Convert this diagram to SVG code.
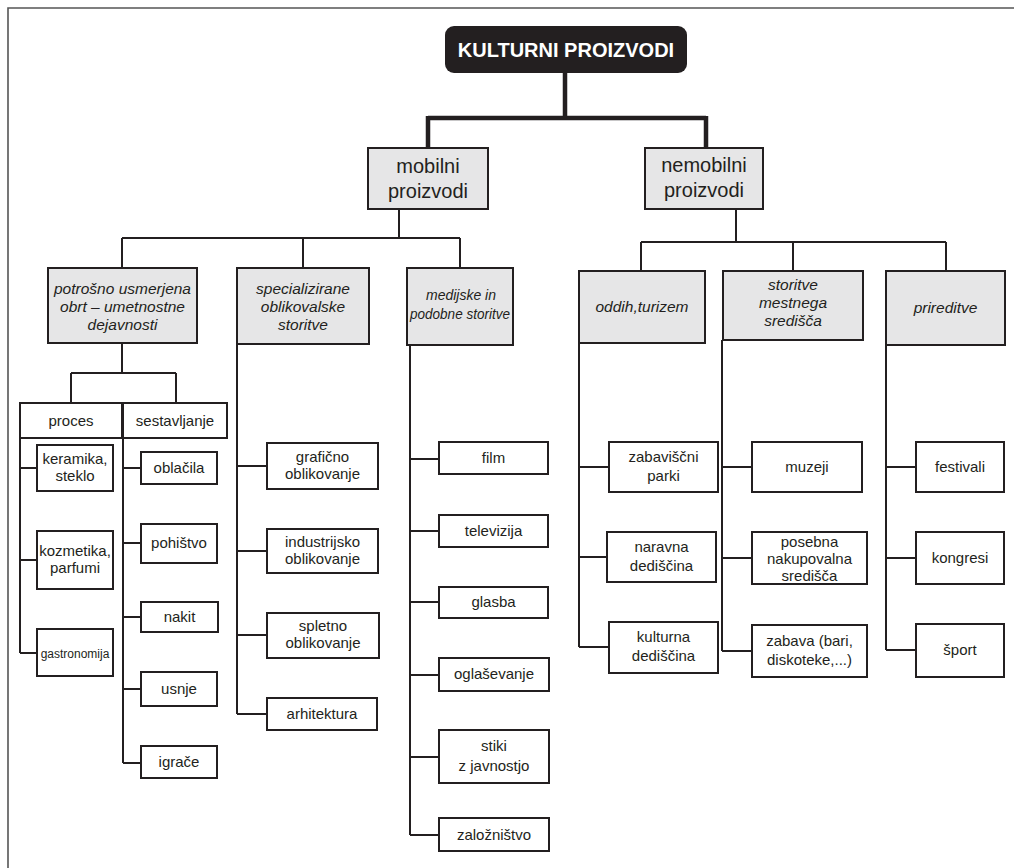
<svg xmlns="http://www.w3.org/2000/svg" width="1014" height="868" viewBox="0 0 1014 868">
<style>
.bg{fill:#fff}
.frame{fill:none;stroke:#555;stroke-width:1.6}
.c{fill:none;stroke:#231f20;stroke-width:2}
.ct{fill:none;stroke:#231f20;stroke-width:4.5}
.root rect{fill:#231f20}
.root text{fill:#fff;font:bold 20px "Liberation Sans",Arial,sans-serif;text-anchor:middle}
.l1 rect{fill:#e6e6e7;stroke:#231f20;stroke-width:2}
.l1 text{fill:#231f20;font:20px "Liberation Sans",Arial,sans-serif;text-anchor:middle}
.l2 rect{fill:#e6e6e7;stroke:#231f20;stroke-width:2}
.l2 text{fill:#231f20;font:italic 15.5px "Liberation Sans",Arial,sans-serif;text-anchor:middle}
.lf rect{fill:#fff;stroke:#231f20;stroke-width:2}
.lf text{fill:#231f20;font:15px "Liberation Sans",Arial,sans-serif;text-anchor:middle}
</style>
<rect class="bg" x="0" y="0" width="1014" height="868"/>
<path class="frame" d="M8,868 V8 H1014"/>
<g id="connectors">
<path class="ct" d="M565,73 V118 M428,118 H706 M428,116 V148 M706,116 V148"/>
<path class="c" d="M399,209 V238 M122,238 H460 M122,238 V268 M303,238 V268 M460,238 V268"/>
<path class="c" d="M736,209 V242 M641,242 H946 M641,242 V271 M793,242 V271 M946,242 V271"/>
<path class="c" d="M122,343 V373 M71,373 H176 M71,373 V403 M176,373 V403"/>
<path class="c" d="M20,438 V653 M20,468 H37 M20,560 H37 M20,653 H37"/>
<path class="c" d="M123,438 V763 M123,468 H141 M123,543 H141 M123,617 H141 M123,689 H141 M123,763 H141"/>
<path class="c" d="M237,344 V714 M237,466 H267 M237,551 H267 M237,635 H267 M237,714 H267"/>
<path class="c" d="M410,345 V835 M410,459 H439 M410,531 H439 M410,602 H439 M410,675 H439 M410,757 H439 M410,835 H439"/>
<path class="c" d="M579,343 V647 M579,467 H609 M579,557 H607 M579,647 H609"/>
<path class="c" d="M722,340 V651 M722,467 H752 M722,558 H752 M722,651 H752"/>
<path class="c" d="M886,345 V650 M886,467 H916 M886,558 H916 M886,650 H916"/>
</g>
<g id="root" class="root"><rect x="445" y="26" width="242" height="47" rx="9"/><text x="566" y="57">KULTURNI PROIZVODI</text></g>
<g id="mobilni" class="l1"><rect x="368" y="148" width="120" height="61"/><text x="428" y="173">mobilni</text><text x="428" y="198">proizvodi</text></g>
<g id="nemobilni" class="l1"><rect x="645" y="148" width="118" height="61"/><text x="704" y="172">nemobilni</text><text x="704" y="197">proizvodi</text></g>
<g id="potrosno" class="l2"><rect x="48" y="268" width="149" height="75"/><text x="122.5" y="294">potrošno usmerjena</text><text x="122.5" y="312">obrt – umetnostne</text><text x="122.5" y="330">dejavnosti</text></g>
<g id="specializirane" class="l2"><rect x="237" y="268" width="132" height="76"/><text x="303" y="294">specializirane</text><text x="303" y="312">oblikovalske</text><text x="303" y="330">storitve</text></g>
<g id="medijske" class="l2"><rect x="407" y="268" width="106" height="77"/><text x="461" y="300" textLength="70" lengthAdjust="spacingAndGlyphs">medijske in</text><text x="460" y="319" textLength="100" lengthAdjust="spacingAndGlyphs">podobne storitve</text></g>
<g id="oddih" class="l2"><rect x="579" y="271" width="126" height="72"/><text x="642" y="312">oddih,turizem</text></g>
<g id="storitve" class="l2"><rect x="723" y="271" width="140" height="69"/><text x="793" y="290">storitve</text><text x="793" y="308">mestnega</text><text x="793" y="326">središča</text></g>
<g id="prireditve" class="l2"><rect x="886" y="271" width="119" height="74"/><text x="945.5" y="313">prireditve</text></g>
<g id="proces" class="lf"><rect x="20" y="403" width="102" height="35"/><text x="71" y="426">proces</text></g>
<g id="sestavljanje" class="lf"><rect x="123" y="403" width="104" height="35"/><text x="175" y="426">sestavljanje</text></g>
<g id="keramika" class="lf"><rect x="37" y="445" width="76" height="46"/><text x="75" y="464">keramika,</text><text x="75" y="481">steklo</text></g>
<g id="kozmetika" class="lf"><rect x="37" y="531" width="76" height="58"/><text x="75" y="556">kozmetika,</text><text x="75" y="573">parfumi</text></g>
<g id="gastronomija" class="lf"><rect x="37" y="629" width="76" height="47"/><text x="75" y="658" style="font-size:12px">gastronomija</text></g>
<g id="oblacila" class="lf"><rect x="141" y="452" width="76" height="32"/><text x="179" y="473">oblačila</text></g>
<g id="pohistvo" class="lf"><rect x="141" y="524" width="76" height="39"/><text x="179" y="548">pohištvo</text></g>
<g id="nakit" class="lf"><rect x="141" y="602" width="77" height="30"/><text x="179.5" y="622">nakit</text></g>
<g id="usnje" class="lf"><rect x="141" y="672" width="76" height="34"/><text x="179" y="694">usnje</text></g>
<g id="igrace" class="lf"><rect x="141" y="746" width="76" height="32"/><text x="179" y="767">igrače</text></g>
<g id="graficno" class="lf"><rect x="267" y="443" width="111" height="46"/><text x="322.5" y="462">grafično</text><text x="322.5" y="479">oblikovanje</text></g>
<g id="industrijsko" class="lf"><rect x="267" y="529" width="111" height="44"/><text x="322.5" y="547">industrijsko</text><text x="322.5" y="564">oblikovanje</text></g>
<g id="spletno" class="lf"><rect x="267" y="613" width="112" height="45"/><text x="323" y="631">spletno</text><text x="323" y="648">oblikovanje</text></g>
<g id="arhitektura" class="lf"><rect x="267" y="698" width="110" height="32"/><text x="322" y="719">arhitektura</text></g>
<g id="film" class="lf"><rect x="439" y="442" width="109" height="32"/><text x="493.5" y="463">film</text></g>
<g id="televizija" class="lf"><rect x="439" y="515" width="109" height="32"/><text x="493.5" y="536">televizija</text></g>
<g id="glasba" class="lf"><rect x="439" y="587" width="109" height="31"/><text x="493.5" y="607">glasba</text></g>
<g id="oglasevanje" class="lf"><rect x="439" y="658" width="110" height="33"/><text x="494" y="679">oglaševanje</text></g>
<g id="stiki" class="lf"><rect x="439" y="730" width="110" height="53"/><text x="494" y="751">stiki</text><text x="494" y="771">z javnostjo</text></g>
<g id="zaloznistvo" class="lf"><rect x="439" y="818" width="110" height="33"/><text x="494" y="840">založništvo</text></g>
<g id="zabaviscni" class="lf"><rect x="609" y="442" width="109" height="50"/><text x="663.5" y="462">zabaviščni</text><text x="663.5" y="481">parki</text></g>
<g id="naravna" class="lf"><rect x="607" y="532" width="109" height="50"/><text x="661.5" y="552">naravna</text><text x="661.5" y="571">dediščina</text></g>
<g id="kulturna" class="lf"><rect x="609" y="622" width="109" height="51"/><text x="663.5" y="642">kulturna</text><text x="663.5" y="661">dediščina</text></g>
<g id="muzeji" class="lf"><rect x="752" y="442" width="110" height="50"/><text x="807" y="472">muzeji</text></g>
<g id="posebna" class="lf"><rect x="752" y="532" width="115" height="52"/><text x="809.5" y="547">posebna</text><text x="809.5" y="564">nakupovalna</text><text x="809.5" y="581">središča</text></g>
<g id="zabava" class="lf"><rect x="752" y="625" width="115" height="52"/><text x="809.5" y="646">zabava (bari,</text><text x="809.5" y="665">diskoteke,...)</text></g>
<g id="festivali" class="lf"><rect x="916" y="442" width="88" height="50"/><text x="960" y="472">festivali</text></g>
<g id="kongresi" class="lf"><rect x="916" y="532" width="88" height="52"/><text x="960" y="563">kongresi</text></g>
<g id="sport" class="lf"><rect x="916" y="624" width="88" height="53"/><text x="960" y="655">šport</text></g>
</svg>
